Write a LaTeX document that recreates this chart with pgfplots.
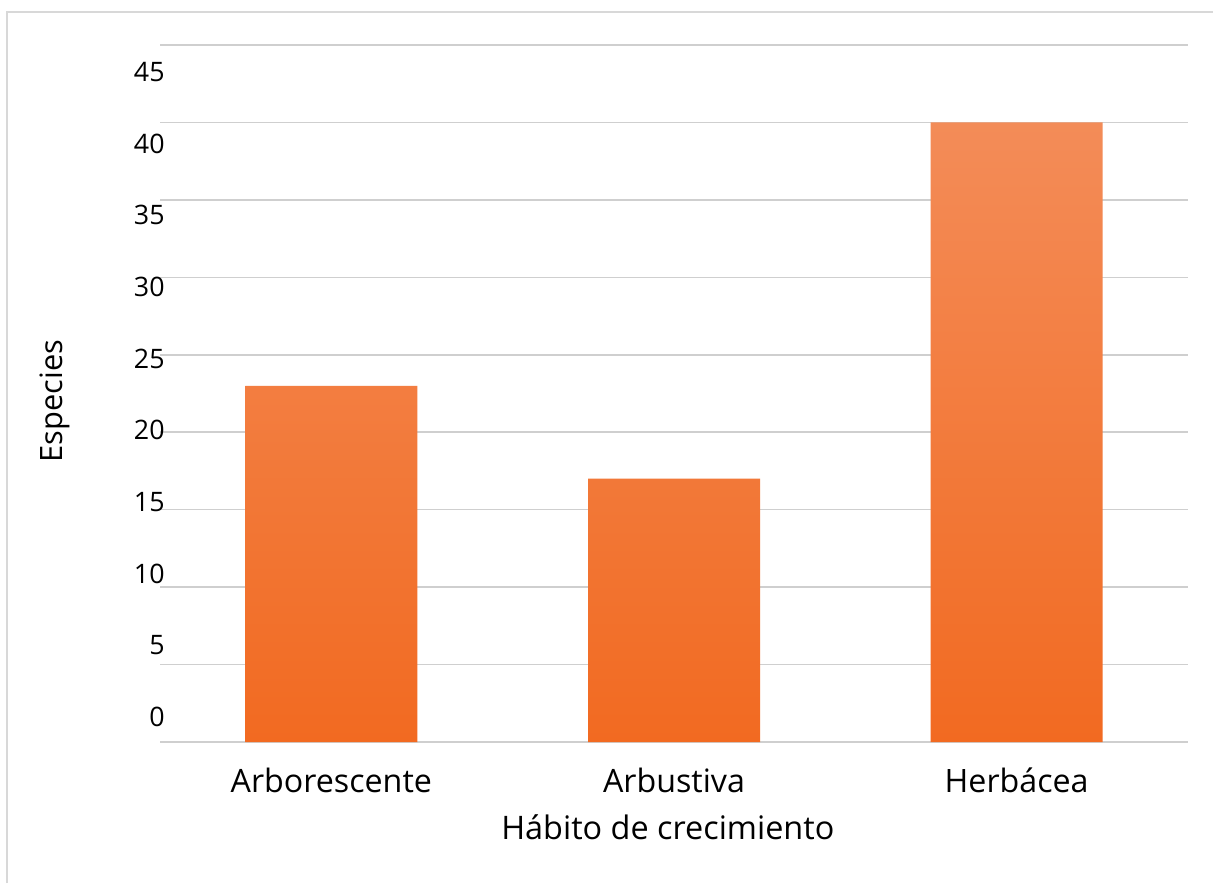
\documentclass[border=0pt]{standalone}
\usepackage{pgfplots}
\pgfplotsset{compat=1.18}
\usepackage{fontspec}
\setmainfont{Open Sans}
\definecolor{bartop}{HTML}{F38C58}
\definecolor{barbot}{HTML}{F26A21}
\definecolor{gridc}{HTML}{CFCFCF}
\definecolor{framec}{HTML}{D8D8D8}
\begin{document}
\begin{tikzpicture}
\path[use as bounding box, fill=white] (0,0) rectangle (606.5pt,441.5pt);
\draw[framec, line width=1.2pt] (3.5pt,0) -- (3.5pt,435.5pt) -- (606.5pt,435.5pt);
\begin{axis}[
  at={(80pt,70.5pt)}, anchor=south west,
  scale only axis, width=514pt, height=348.5pt,
  xmin=-0.5, xmax=2.5, ymin=0, ymax=45,
  xtick={0,1,2}, xticklabels={Arborescente,Arbustiva,Herbácea},
  ytick={0,5,...,45},
  axis line style={draw=none},
  major tick length=0pt,
  ymajorgrids, grid style={gridc, line width=0.75pt},
  xticklabel style={anchor=base, inner sep=0pt, yshift=-25pt, font=\fontsize{16.1}{19}\selectfont},
  yticklabel style={anchor=base east, inner sep=0pt, xshift=2.5pt, font=\fontsize{13.4}{16}\selectfont},
  yticklabel={\pgfmathtruncatemacro{\v}{\tick}\pgfmathparse{7.75-0.58*\tick}\raisebox{\pgfmathresult pt}{\v}},
  xlabel={Hábito de crecimiento},
  xlabel style={at={(axis description cs:0.494,-0.1406)}, anchor=base, inner sep=0pt, font=\fontsize{16.2}{19}\selectfont},
  ylabel={Especies},
  ylabel style={at={(axis description cs:-0.0944,0.4892)}, anchor=base, inner sep=0pt, font=\fontsize{15.4}{18}\selectfont},
]
\addplot[ybar, bar width=86pt, draw=none, top color=bartop, bottom color=barbot] coordinates {(0,23) (1,17) (2,40)};
\end{axis}
\end{tikzpicture}
\end{document}
